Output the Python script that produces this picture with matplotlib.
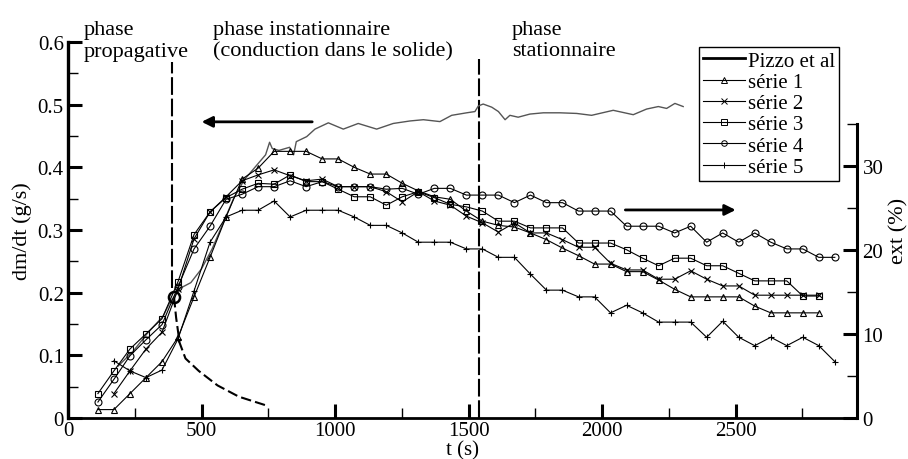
import matplotlib
matplotlib.use('Agg')
import matplotlib.pyplot as plt
from matplotlib.lines import Line2D
from matplotlib.ticker import MultipleLocator, FixedLocator
import numpy as np

plt.rcParams['font.family'] = ['Liberation Serif', 'DejaVu Serif']

# sample times of the five series (s)
t = [112, 172, 232, 292, 352, 412, 472, 532, 592, 652, 712, 772, 832, 892, 952,
     1012, 1072, 1132, 1192, 1252, 1312, 1372, 1432, 1492, 1552, 1612, 1672,
     1732, 1792, 1852, 1912, 1972, 2032, 2092, 2152, 2212, 2272, 2332, 2392,
     2452, 2512, 2572, 2632, 2692, 2752, 2812, 2872]

nan = np.nan
# ext (%) for each series
serie1 = [1.0, 1.0, 2.9, 4.8, 6.7, 9.6, 14.4, 19.1, 23.9, 28.4,
          29.7, 31.7, 31.7, 31.7, 30.8, 30.8, 29.8, 29.0, 29.0, 27.9,
          27.0, 26.3, 26.0, 24.6, 23.4, 22.9, 22.7, 22.0, 21.2, 20.2,
          19.3, 18.3, 18.3, 17.4, 17.4, 16.4, 15.3, 14.4, 14.4, 14.4,
          14.4, 13.3, 12.5, 12.5, 12.5, 12.5]
serie2 = [nan, 2.9, 5.6, 8.2, 10.2, 15.3, 21.3, 24.5, 26.3, 28.2,
          28.9, 29.5, 28.8, 28.2, 28.4, 27.5, 27.5, 27.5, 26.9, 25.7,
          26.9, 25.8, 25.3, 24.0, 23.2, 22.1, 23.2, 22.0, 22.0, 21.2,
          20.3, 20.3, 18.4, 17.6, 17.6, 16.5, 16.5, 17.5, 16.5, 15.7,
          15.7, 14.6, 14.6, 14.6, 14.6, 14.6]
serie3 = [2.9, 5.6, 8.2, 10.0, 11.8, 16.2, 21.8, 24.5, 26.2, 27.2,
          27.9, 27.8, 28.9, 28.1, 28.1, 27.2, 26.3, 26.3, 25.3, 26.3,
          26.9, 26.2, 25.4, 25.1, 24.6, 23.4, 23.4, 22.6, 22.6, 22.6,
          20.8, 20.8, 20.8, 20.0, 19.0, 18.1, 19.0, 19.0, 18.1, 18.1,
          17.2, 16.3, 16.3, 16.3, 14.5, 14.5]
serie4 = [1.9, 4.6, 7.4, 9.3, 11.1, 15.6, 20.1, 22.8, 26.0, 26.6,
          27.5, 27.5, 28.2, 27.5, 28.1, 27.5, 27.5, 27.5, 27.2, 27.3,
          26.6, 27.3, 27.3, 26.5, 26.5, 26.5, 25.6, 26.5, 25.6, 25.6,
          24.6, 24.6, 24.6, 22.8, 22.8, 22.8, 22.0, 22.8, 20.9, 22.0,
          20.9, 22.0, 20.9, 20.1, 20.1, 19.1, 19.1]
serie5 = [nan, 6.8, 5.6, 4.8, 5.7, 9.4, 15.1, 20.9, 23.9, 24.7,
          24.7, 25.8, 23.9, 24.7, 24.7, 24.7, 23.9, 22.9, 22.9, 22.0,
          20.9, 20.9, 20.9, 20.1, 20.1, 19.1, 19.1, 17.1, 15.2, 15.2,
          14.4, 14.4, 12.5, 13.4, 12.5, 11.4, 11.4, 11.4, 9.6, 11.5,
          9.6, 8.6, 9.6, 8.6, 9.6, 8.6, 6.7]

# Pizzo et al, dm/dt (g/s)
pizzo_t = [188, 245, 295, 357, 382, 397, 420, 460, 500, 540, 580, 620, 660, 700,
           740, 755, 765, 790, 830, 845, 855, 894, 925, 975, 1031, 1087, 1156,
           1218, 1281, 1331, 1393, 1437, 1493, 1524, 1537, 1555, 1587, 1612,
           1637, 1655, 1686, 1730, 1780, 1843, 1905, 1961, 2042, 2117, 2167,
           2211, 2242, 2273, 2304]
pizzo_v = [0.083, 0.107, 0.134, 0.163, 0.185, 0.193, 0.207, 0.216, 0.238, 0.27,
           0.31, 0.35, 0.38, 0.40, 0.42, 0.44, 0.43, 0.427, 0.432, 0.42, 0.441,
           0.449, 0.461, 0.471, 0.461, 0.470, 0.461, 0.470, 0.474, 0.476, 0.473,
           0.483, 0.487, 0.489, 0.498, 0.501, 0.496, 0.489, 0.476, 0.483, 0.480,
           0.485, 0.487, 0.487, 0.486, 0.483, 0.491, 0.484, 0.493, 0.497, 0.494,
           0.502, 0.497]

# decreasing dashed curve
dash_t = [397, 405, 418, 440, 490, 560, 640, 750]
dash_v = [0.193, 0.16, 0.12, 0.095, 0.075, 0.052, 0.034, 0.019]

fig = plt.figure(figsize=(9.08, 4.6), dpi=100)
ax = fig.add_axes([68 / 908, 1 - 419 / 460, 789 / 908, 376 / 460])
ax2 = ax.twinx()
ax.patch.set_visible(False)
ax2.patch.set_visible(False)

ax.set_xlim(0, 2955)
ax.set_ylim(0, 0.6)
ax2.set_ylim(0, 44.7)

# phase separations
ax.plot([391, 391], [0.207, 0.568], color='k', lw=1.5, dashes=(8.5, 1.8))
ax.plot([1541, 1541], [0, 0.573], color='k', lw=1.5, dashes=(8.5, 1.8))
ax.plot(dash_t, dash_v, color='k', lw=1.5, dashes=(5, 2))
ax.plot(pizzo_t, pizzo_v, color='#555555', lw=1.0)
ax.plot([397], [0.193], marker='o', ms=8, mfc='none', mec='k', mew=1.8)

ax.annotate('', xy=(490, 0.4726), xytext=(925, 0.4726),
            arrowprops=dict(arrowstyle='-|>', lw=2, color='k', mutation_scale=16))
ax.annotate('', xy=(2511, 0.332), xytext=(2077, 0.332),
            arrowprops=dict(arrowstyle='-|>', lw=2, color='k', mutation_scale=16))

series = [serie1, serie2, serie3, serie4, serie5]
markers = ['^', 'x', 's', 'o', '+']
for s, m in zip(series, markers):
    ax2.plot(t[:len(s)], s, color='k', lw=0.8, marker=m, ms=5, mfc='none',
             mec='k', mew=0.8)

# spines
ax.spines['top'].set_visible(False)
ax.spines['right'].set_visible(False)
ax.spines['left'].set_linewidth(2.4)
ax.spines['bottom'].set_linewidth(2.0)
for k in ['top', 'left', 'bottom']:
    ax2.spines[k].set_visible(False)
ax2.spines['right'].set_linewidth(2.2)
ax2.spines['right'].set_bounds(0, 35)

ax.xaxis.set_major_locator(FixedLocator([0, 500, 1000, 1500, 2000, 2500]))
ax.xaxis.set_minor_locator(FixedLocator([250, 750, 1250, 1750, 2250, 2750]))
ax.set_xticklabels(['0', '500', '1000', '1500', '2000', '2500'])
ax.yaxis.set_major_locator(FixedLocator([0, 0.1, 0.2, 0.3, 0.4, 0.5, 0.6]))
ax.yaxis.set_minor_locator(MultipleLocator(0.05))
ax.set_yticklabels(['0', '0.1', '0.2', '0.3', '0.4', '0.5', '0.6'])
ax2.yaxis.set_major_locator(FixedLocator([0, 10, 20, 30]))
ax2.yaxis.set_minor_locator(FixedLocator([5, 15, 25, 35]))

for a in (ax, ax2):
    a.tick_params(which='major', direction='in', length=10, width=2.2,
                  labelsize=15)
    a.tick_params(which='minor', direction='in', length=7, width=1)
ax.tick_params(axis='y', which='both', right=False, pad=3)
ax.tick_params(axis='x', which='both', top=False, pad=2)
ax2.tick_params(axis='y', which='both', pad=4)

ax.set_xlabel('t (s)', fontsize=15)
ax.xaxis.set_label_coords(0.5, -0.059)
ax.set_ylabel('dm/dt (g/s)', fontsize=16, labelpad=4)
ax2.set_ylabel('ext (%)', fontsize=16, labelpad=4)

txt = dict(fontsize=16, va='baseline', linespacing=1.17)
fig.text(84 / 908, 1 - 56.5 / 460, 'phase\npropagative', **txt)
fig.text(213 / 908, 1 - 56.5 / 460, 'phase instationnaire\n(conduction dans le solide)', **txt)
fig.text(512 / 908, 1 - 56.5 / 460, 'phase\nstationnaire', **txt)

handles = [Line2D([], [], color='k', lw=2)]
for m in markers:
    handles.append(Line2D([], [], color='k', lw=0.8, marker=m, ms=4,
                          mfc='none', mew=0.7))
labels = ['Pizzo et al', 'série 1', 'série 2', 'série 3', 'série 4', 'série 5']
leg = fig.legend(handles, labels, loc='upper left',
                 bbox_to_anchor=(699 / 908, 1 - 48 / 460), fontsize=15,
                 frameon=True, fancybox=False, shadow=False, borderpad=0.2,
                 labelspacing=0.08, handlelength=2.0, handletextpad=0.15,
                 borderaxespad=0)
leg.get_frame().set_edgecolor('k')
leg.get_frame().set_linewidth(1.0)
leg.get_frame().set_alpha(1)

fig.savefig('out.png', dpi=100)
